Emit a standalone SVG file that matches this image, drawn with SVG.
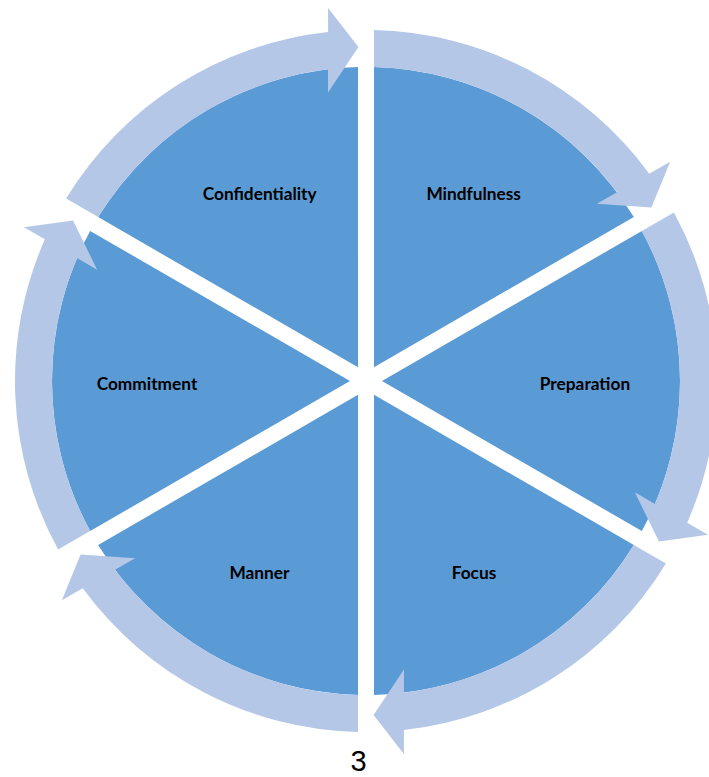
<svg xmlns="http://www.w3.org/2000/svg" width="709" height="777" viewBox="0 0 709 777">
<style>
.wedge{fill:#5B9BD5}
.arrow{fill:#B4C7E7}
.lbl{font-family:Lato,"Open Sans","Liberation Sans",sans-serif;font-weight:bold;font-size:17.3px;fill:#000;text-anchor:middle}
.num{font-family:"Liberation Sans",Arial,sans-serif;font-size:29px;fill:#000;text-anchor:middle}
</style>
<defs>
<path id="w" d="M374,367.14 L374,67.10 A314,314 0 0 1 633.84,217.12 Z"/>
<path id="a" d="M374,30.09 A351,351 0 0 1 649.24,173.69 L670.15,161.64 L651.39,207.48 L596.87,203.85 L616.96,192.28 A314,314 0 0 0 374,67.10 Z"/>
</defs>
<rect width="709" height="777" fill="#fff"/>
<g id="mindfulness"><use href="#w" class="wedge"/><text class="lbl" x="473.7" y="200">Mindfulness</text></g>
<g id="preparation"><use href="#w" class="wedge" transform="rotate(60 366 381)"/><text class="lbl" x="585" y="390">Preparation</text></g>
<g id="focus"><use href="#w" class="wedge" transform="rotate(120 366 381)"/><text class="lbl" x="474" y="579">Focus</text></g>
<g id="manner"><use href="#w" class="wedge" transform="rotate(180 366 381)"/><text class="lbl" x="259.5" y="579">Manner</text></g>
<g id="commitment"><use href="#w" class="wedge" transform="rotate(240 366 381)"/><text class="lbl" x="147" y="390">Commitment</text></g>
<g id="confidentiality"><use href="#w" class="wedge" transform="rotate(300 366 381)"/><text class="lbl" x="259.7" y="200">Confidentiality</text></g>
<g id="connectors">
<use href="#a" class="arrow"/>
<use href="#a" class="arrow" transform="rotate(60 366 381)"/>
<use href="#a" class="arrow" transform="rotate(120 366 381)"/>
<use href="#a" class="arrow" transform="rotate(180 366 381)"/>
<use href="#a" class="arrow" transform="rotate(240 366 381)"/>
<use href="#a" class="arrow" transform="rotate(300 366 381)"/>
</g>
<text class="num" x="358.5" y="770.5">3</text>
</svg>
